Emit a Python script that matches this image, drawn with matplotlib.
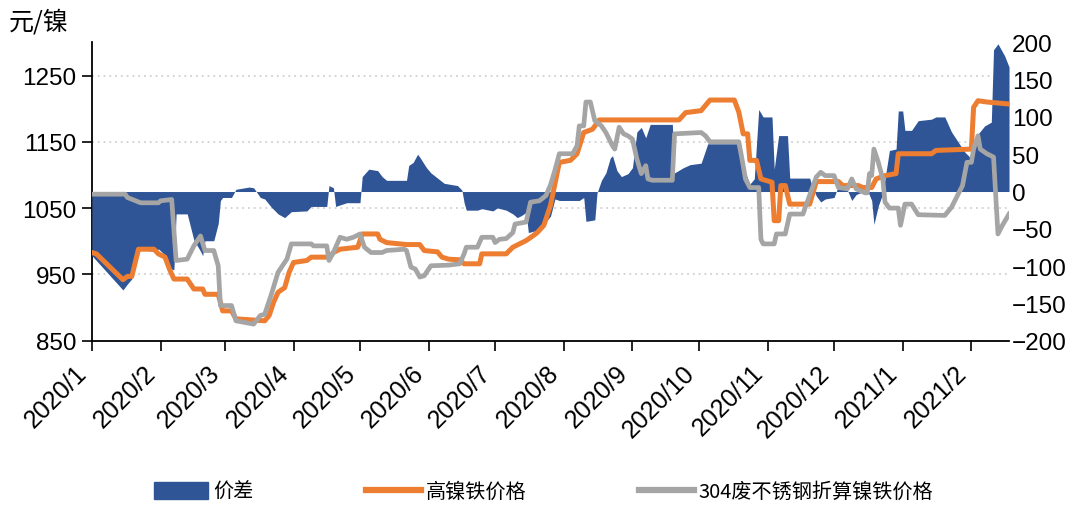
import numpy as np
import matplotlib
matplotlib.use('Agg')
import matplotlib.pyplot as plt
from matplotlib.patches import Patch
from matplotlib.lines import Line2D

plt.rcParams['font.family'] = ['Liberation Sans', 'Noto Sans CJK SC']
plt.rcParams['axes.unicode_minus'] = True

# ---------------- data ----------------
orange_dates = ['2020-01-01', '2020-01-03', '2020-01-15', '2020-01-17', '2020-01-19', '2020-01-22',
                '2020-01-29', '2020-01-31', '2020-02-03', '2020-02-05', '2020-02-07', '2020-02-13',
                '2020-02-16', '2020-02-20', '2020-02-21', '2020-02-27', '2020-02-29', '2020-03-04',
                '2020-03-06', '2020-03-19', '2020-03-21', '2020-03-23', '2020-03-25', '2020-03-28',
                '2020-03-30', '2020-04-01', '2020-04-07', '2020-04-09', '2020-04-17', '2020-04-19',
                '2020-04-22', '2020-04-30', '2020-05-02', '2020-05-09', '2020-05-10', '2020-05-13',
                '2020-05-22', '2020-05-28', '2020-05-30', '2020-06-05', '2020-06-07', '2020-06-10',
                '2020-06-15', '2020-06-17', '2020-06-24', '2020-06-25', '2020-07-06', '2020-07-09',
                '2020-07-12', '2020-07-15', '2020-07-18', '2020-07-20', '2020-07-23', '2020-07-26',
                '2020-07-30', '2020-08-04', '2020-08-07', '2020-08-10', '2020-08-14', '2020-08-17',
                '2020-09-22', '2020-09-25', '2020-10-02', '2020-10-06', '2020-10-17', '2020-10-19',
                '2020-10-21', '2020-10-23', '2020-10-24', '2020-10-27', '2020-10-29', '2020-11-02',
                '2020-11-03', '2020-11-04', '2020-11-06', '2020-11-07', '2020-11-09', '2020-11-11',
                '2020-11-20', '2020-11-23', '2020-12-03', '2020-12-05', '2020-12-12', '2020-12-14',
                '2020-12-18', '2020-12-20', '2020-12-24', '2020-12-29', '2020-12-30', '2021-01-14',
                '2021-01-16', '2021-02-01', '2021-02-02', '2021-02-04', '2021-02-08', '2021-02-18']
orange_vals = [983, 981, 942, 947, 947, 988,
               988, 981, 976, 958, 943, 943,
               928, 928, 920, 920, 895, 895,
               883, 880, 888, 908, 923, 930,
               953, 968, 971, 976, 976, 983,
               988, 991, 1011, 1011, 1003, 998,
               995, 995, 986, 984, 976, 973,
               972, 966, 966, 981, 981, 991,
               996, 1001, 1008, 1013, 1024, 1054,
               1119, 1122, 1132, 1164, 1169, 1183,
               1183, 1194, 1197, 1213, 1213, 1195,
               1162, 1162, 1122, 1122, 1094, 1090,
               1089, 1031, 1031, 1084, 1084, 1056,
               1056, 1090, 1090, 1084, 1084, 1081,
               1081, 1094, 1099, 1102, 1132, 1132,
               1137, 1139, 1202, 1212, 1210, 1207]

gray_dates = ['2020-01-01', '2020-01-16', '2020-01-17', '2020-01-23', '2020-01-31', '2020-02-01',
              '2020-02-06', '2020-02-08', '2020-02-13', '2020-02-16', '2020-02-19', '2020-02-21',
              '2020-02-25', '2020-02-27', '2020-02-28', '2020-03-04', '2020-03-06', '2020-03-14',
              '2020-03-17', '2020-03-19', '2020-03-22', '2020-03-25', '2020-03-27', '2020-03-29',
              '2020-03-31', '2020-04-09', '2020-04-10', '2020-04-16', '2020-04-17', '2020-04-19',
              '2020-04-22', '2020-04-25', '2020-04-28', '2020-05-01', '2020-05-03', '2020-05-06',
              '2020-05-11', '2020-05-13', '2020-05-21', '2020-05-22', '2020-05-24', '2020-05-26',
              '2020-05-28', '2020-05-30', '2020-06-02', '2020-06-10', '2020-06-15', '2020-06-17',
              '2020-06-18', '2020-06-23', '2020-06-25', '2020-06-30', '2020-07-01', '2020-07-03',
              '2020-07-06', '2020-07-09', '2020-07-10', '2020-07-15', '2020-07-17', '2020-07-21',
              '2020-07-24', '2020-07-26', '2020-07-28', '2020-07-30', '2020-08-05', '2020-08-07',
              '2020-08-08', '2020-08-10', '2020-08-11', '2020-08-13', '2020-08-15', '2020-08-18',
              '2020-08-20', '2020-08-23', '2020-08-24', '2020-08-26', '2020-08-28', '2020-08-30',
              '2020-09-01', '2020-09-03', '2020-09-05', '2020-09-07', '2020-09-08', '2020-09-10',
              '2020-09-19', '2020-09-20', '2020-10-02', '2020-10-04', '2020-10-06', '2020-10-19',
              '2020-10-21', '2020-10-22', '2020-10-24', '2020-10-28', '2020-10-29', '2020-10-30',
              '2020-11-04', '2020-11-05', '2020-11-09', '2020-11-11', '2020-11-17', '2020-11-18',
              '2020-11-23', '2020-11-25', '2020-11-27', '2020-12-01', '2020-12-03', '2020-12-07',
              '2020-12-09', '2020-12-11', '2020-12-15', '2020-12-16', '2020-12-17', '2020-12-18',
              '2020-12-19', '2020-12-21', '2020-12-23', '2020-12-24', '2020-12-26', '2020-12-30',
              '2020-12-31', '2021-01-02', '2021-01-05', '2021-01-08', '2021-01-20', '2021-01-23',
              '2021-01-28', '2021-01-30', '2021-02-01', '2021-02-02', '2021-02-04', '2021-02-05',
              '2021-02-08', '2021-02-11', '2021-02-13', '2021-02-15', '2021-02-18']
gray_vals = [1071, 1071, 1066, 1058, 1058, 1061,
             1063, 971, 973, 993, 1008, 986,
             986, 963, 903, 903, 880, 875,
             888, 890, 920, 953, 963, 973,
             996, 996, 993, 993, 971, 983,
             1006, 1003, 1006, 1011, 991, 983,
             983, 986, 988, 986, 961, 958,
             946, 948, 963, 964, 966, 981,
             991, 991, 1006, 1006, 998, 1003,
             1004, 1013, 1026, 1029, 1059, 1061,
             1069, 1085, 1107, 1132, 1132, 1144,
             1174, 1174, 1210, 1210, 1182, 1174,
             1164, 1144, 1139, 1172, 1162, 1159,
             1154, 1124, 1102, 1114, 1094, 1092,
             1092, 1162, 1164, 1159, 1150, 1150,
             1114, 1094, 1081, 1081, 1003, 996,
             996, 1011, 1011, 1041, 1041, 1051,
             1097, 1104, 1099, 1099, 1081, 1079,
             1094, 1079, 1073, 1073, 1102, 1099,
             1139, 1119, 1094, 1059, 1050, 1050,
             1024, 1056, 1056, 1040, 1039, 1051,
             1084, 1119, 1119, 1139, 1159, 1139,
             1132, 1127, 1011, 1024, 1041]

spread_dates = ['2020-01-01', '2020-01-15', '2020-01-17', '2020-01-19', '2020-01-22', '2020-01-29',
                '2020-01-31', '2020-02-03', '2020-02-05', '2020-02-07', '2020-02-08', '2020-02-13',
                '2020-02-16', '2020-02-19', '2020-02-20', '2020-02-21', '2020-02-25', '2020-02-27',
                '2020-02-28', '2020-02-29', '2020-03-04', '2020-03-06', '2020-03-12', '2020-03-14',
                '2020-03-17', '2020-03-19', '2020-03-22', '2020-03-25', '2020-03-28', '2020-03-31',
                '2020-04-07', '2020-04-09', '2020-04-16', '2020-04-17', '2020-04-19', '2020-04-20',
                '2020-04-22', '2020-04-25', '2020-05-01', '2020-05-02', '2020-05-05', '2020-05-09',
                '2020-05-11', '2020-05-13', '2020-05-22', '2020-05-23', '2020-05-25', '2020-05-27',
                '2020-05-28', '2020-05-31', '2020-06-02', '2020-06-05', '2020-06-08', '2020-06-14',
                '2020-06-16', '2020-06-17', '2020-06-18', '2020-06-23', '2020-06-25', '2020-06-30',
                '2020-07-02', '2020-07-06', '2020-07-09', '2020-07-11', '2020-07-13', '2020-07-15',
                '2020-07-16', '2020-07-20', '2020-07-22', '2020-07-24', '2020-07-26', '2020-07-28',
                '2020-07-30', '2020-08-06', '2020-08-08', '2020-08-10', '2020-08-11', '2020-08-15',
                '2020-08-16', '2020-08-18', '2020-08-20', '2020-08-22', '2020-08-23', '2020-08-25',
                '2020-08-27', '2020-08-30', '2020-09-01', '2020-09-03', '2020-09-05', '2020-09-07',
                '2020-09-09', '2020-09-19', '2020-09-20', '2020-09-24', '2020-09-27', '2020-10-02',
                '2020-10-05', '2020-10-18', '2020-10-20', '2020-10-22', '2020-10-24', '2020-10-26',
                '2020-10-28', '2020-10-30', '2020-11-03', '2020-11-04', '2020-11-06', '2020-11-10',
                '2020-11-11', '2020-11-20', '2020-11-21', '2020-11-23', '2020-11-25', '2020-11-27',
                '2020-12-01', '2020-12-03', '2020-12-07', '2020-12-09', '2020-12-11', '2020-12-16',
                '2020-12-18', '2020-12-19', '2020-12-21', '2020-12-23', '2020-12-24', '2020-12-26',
                '2020-12-29', '2020-12-30', '2021-01-01', '2021-01-02', '2021-01-05', '2021-01-08',
                '2021-01-14', '2021-01-16', '2021-01-20', '2021-01-23', '2021-01-29', '2021-02-01',
                '2021-02-03', '2021-02-04', '2021-02-07', '2021-02-10', '2021-02-11', '2021-02-13',
                '2021-02-16', '2021-02-18']
spread_vals = [-86, -132, -124, -117, -78, -80,
               -77, -85, -103, -105, -30, -30,
               -65, -80, -86, -66, -66, -43,
               -12, -8, -8, 3, 6, 5,
               -8, -10, -21, -30, -35, -27,
               -26, -20, -20, 8, 5, -20,
               -18, -15, -15, 20, 30, 28,
               20, 15, 15, 35, 39, 50,
               46, 32, 25, 18, 11, 8,
               2, -15, -25, -25, -23, -26,
               -22, -25, -30, -35, -32, -28,
               -55, -52, -45, -40, -33, -10,
               -12, -12, -12, -8, -40, -38,
               -2, 15, 25, 45, 48, 28,
               20, 24, 32, 80, 86, 72,
               90, 90, 25, 32, 36, 38,
               64, 64, 45, 25, 10, 17,
               110, 100, 100, 30, 75, 75,
               18, 18, 8, -6, -14, -10,
               -8, 8, 2, -12, -4, 2,
               -12, -44, -19, -3, 17, 55,
               57, 108, 108, 82, 82, 95,
               97, 100, 100, 80, 53, 44,
               73, 77, 88, 93, 190, 198,
               182, 167]

month_ticks = ['2020-01-01', '2020-02-01', '2020-03-01', '2020-04-01', '2020-05-01', '2020-06-01',
               '2020-07-01', '2020-08-01', '2020-09-01', '2020-10-01', '2020-11-01', '2020-12-01',
               '2021-01-01', '2021-02-01']
month_labels = ['2020/1', '2020/2', '2020/3', '2020/4', '2020/5', '2020/6', '2020/7',
                '2020/8', '2020/9', '2020/10', '2020/11', '2020/12', '2021/1', '2021/2']

series_names = ['价差', '高镍铁价格', '304废不锈钢折算镍铁价格']
left_ticks = [850, 950, 1050, 1150, 1250]
right_ticks = [-200, -150, -100, -50, 0, 50, 100, 150, 200]

# ---------------- styling ----------------
BLUE = '#2F5597'
ORANGE = '#ED7D31'
GRAY = '#A5A5A5'
CJK = ['Noto Sans CJK SC', 'DejaVu Sans']
FS_Y = 17.5
FS_X = 18

fig = plt.figure(figsize=(10.83, 5.10), dpi=100)
ax = fig.add_axes([0.0849, 0.330, 0.8468, 0.585])
ax2 = ax.twinx()   # spread (right axis)
ax3 = ax.twinx()   # price lines (left scale), drawn on top

od = np.array(orange_dates, dtype='datetime64[D]')
gd = np.array(gray_dates, dtype='datetime64[D]')
sd = np.array(spread_dates, dtype='datetime64[D]')

ax2.fill_between(sd, spread_vals, 0, color=BLUE, linewidth=0)
ax3.plot(od, orange_vals, color=ORANGE, lw=3.6)
ax3.plot(gd, gray_vals, color=GRAY, lw=3.4)

xlo, xhi = np.datetime64('2020-01-01'), np.datetime64('2021-02-18')
for a in (ax, ax2, ax3):
    a.set_xlim(xlo, xhi)

ax.set_ylim(850, 1300)
ax3.set_ylim(850, 1300)
ax2.set_ylim(-200, 200)

ax.set_yticks(left_ticks)
ax.yaxis.grid(True, linestyle=(0, (1, 2.2)), color='#D0D0D0', lw=1.3)
ax.set_axisbelow(True)
ax.tick_params(axis='y', direction='out', length=7, width=1.2, pad=4, labelsize=FS_Y)

ax.set_xticks(np.array(month_ticks, dtype='datetime64[D]'))
ax.set_xticklabels(month_labels, rotation=45, ha='right', fontsize=FS_X)
ax.tick_params(axis='x', direction='out', length=7, width=1.2, pad=7)

for s in ('top', 'right'):
    ax.spines[s].set_visible(False)
for s in ('left', 'bottom'):
    ax.spines[s].set_linewidth(1.3)
    ax.spines[s].set_color('black')

ax2.set_yticks(right_ticks)
ax2.tick_params(axis='y', length=0, pad=2, labelsize=FS_Y)
for s in ax2.spines.values():
    s.set_visible(False)

ax3.set_yticks([])
for s in ax3.spines.values():
    s.set_visible(False)

fig.text(0.008, 0.955, '元/镍', fontsize=18, family=CJK, va='center', ha='left')

handles = [Patch(facecolor=BLUE, edgecolor=BLUE, label=series_names[0]),
           Line2D([], [], color=ORANGE, lw=4.5, label=series_names[1]),
           Line2D([], [], color=GRAY, lw=4.5, label=series_names[2])]
fig.legend(handles=handles, loc='center', bbox_to_anchor=(0.502, 0.034), ncol=3, frameon=False,
           prop={'family': CJK, 'size': 14.5}, handlelength=2.7, handleheight=0.9,
           columnspacing=5.6, handletextpad=0.25)

fig.savefig('out.png', dpi=100)
